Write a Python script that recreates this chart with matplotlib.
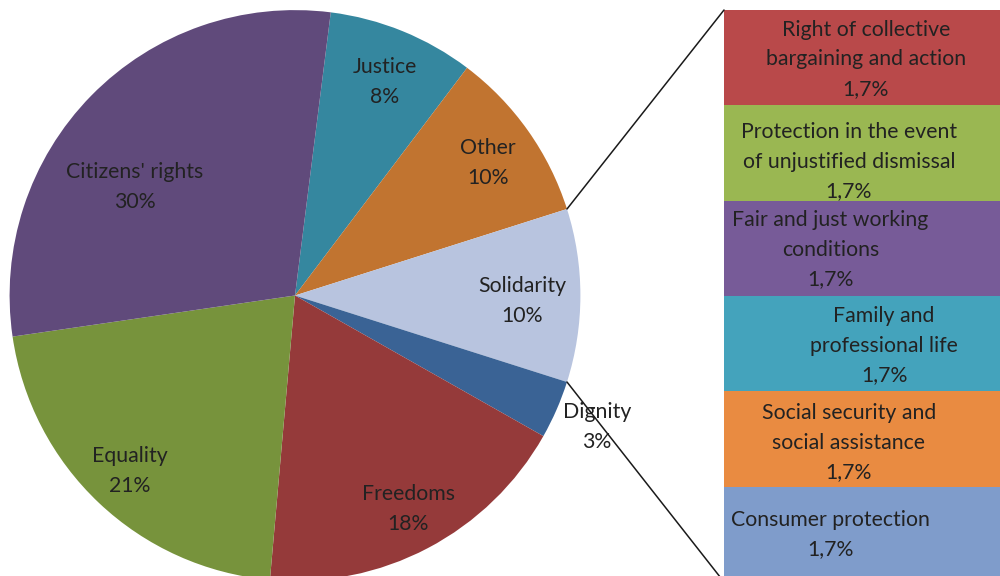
import matplotlib
matplotlib.use("Agg")
import matplotlib.pyplot as plt
from matplotlib.patches import ConnectionPatch
import numpy as np

plt.rcParams['font.family'] = ['Lato', 'DejaVu Sans']

# ---- data ----
pie_labels = ["Justice", "Other", "Solidarity", "Dignity", "Freedoms", "Equality", "Citizens' rights"]
pie_values = [8.3, 9.8, 9.8, 3.3, 18.2, 21.3, 29.3]
pie_pct_text = ["8%", "10%", "10%", "3%", "18%", "21%", "30%"]
pie_colors = ["#35879F", "#C17430", "#B8C4DF", "#3A6395", "#953A3A", "#77933C", "#604A7B"]

bar_labels = ["Right of collective\nbargaining and action",
              "Protection in the event\nof unjustified dismissal",
              "Fair and just working\nconditions",
              "Family and\nprofessional life",
              "Social security and\nsocial assistance",
              "Consumer protection"]
bar_values = [1.7, 1.7, 1.7, 1.7, 1.7, 1.7]
bar_pct_text = ["1,7%"] * 6
bar_colors = ["#B9494A", "#9AB752", "#775B98", "#44A3BC", "#E98B41", "#7F9CCB"]

TXT = "#222222"
FS = 15.3
LS = 1.6

fig = plt.figure(figsize=(10, 5.76), dpi=100)
ax = fig.add_axes([0, 0, 1, 1])

cx, cy, R = 295.0, 576 - 295.5, 285.4
sol_idx = pie_labels.index("Solidarity")
start = sum(pie_values[:sol_idx]) * 3.6 + pie_values[sol_idx] * 1.8
wedges, _ = ax.pie(pie_values, colors=pie_colors, startangle=start, counterclock=False,
                   center=(cx, cy), radius=R, frame=False,
                   wedgeprops=dict(linewidth=0))
ax.set_xlim(0, 1000)
ax.set_ylim(0, 576)
ax.set_aspect('equal')
ax.axis('off')

# label positions (fractions of radius, relative to centre)
label_pos = [(0.315, 0.748), (0.676, 0.464), (0.795, -0.019), (1.058, -0.461),
             (0.396, -0.748), (-0.578, -0.615), (-0.561, 0.380)]
for lab, pct, (fx, fy) in zip(pie_labels, pie_pct_text, label_pos):
    ax.text(cx + fx * R, cy + fy * R, f"{lab}\n{pct}", ha='center', va='center',
            fontsize=FS, color=TXT, linespacing=LS)

# ---- bar of pie ----
top_px, bot_px, left_px = 10, 582, 724
bax = fig.add_axes([left_px / 1000, 1 - bot_px / 576, 0.28, (bot_px - top_px) / 576])
vals_bottom_up = bar_values[::-1]
cols_bottom_up = bar_colors[::-1]
bottoms = np.concatenate([[0], np.cumsum(vals_bottom_up)[:-1]])
bars = bax.bar([0] * len(vals_bottom_up), vals_bottom_up, bottom=bottoms, width=1,
               align='edge', color=cols_bottom_up, linewidth=0)
total = float(np.sum(bar_values))
bax.set_xlim(0, 1)
bax.set_ylim(0, total)
bax.axis('off')

# text placement in each box (fraction of box width, pixel shift down)
text_x = [0.507, 0.446, 0.380, 0.572, 0.446, 0.380]
text_dy = [1.5, 8.5, 1.5, 2.0, 3.5, 0.0]
px_per_unit = (bot_px - top_px) / total
for i, (lab, pct) in enumerate(zip(bar_labels, bar_pct_text)):
    b = bars[len(bars) - 1 - i]
    yc = b.get_y() + b.get_height() / 2 - text_dy[i] / px_per_unit
    bax.text(text_x[i], yc, f"{lab}\n{pct}", ha='center', va='center',
             fontsize=FS, color=TXT, linespacing=LS)

# connector lines from solidarity wedge edges to bar corners
w = wedges[sol_idx]
for theta, yb in [(w.theta2, total), (w.theta1, 0.0)]:
    t = np.deg2rad(theta)
    pA = (cx + R * np.cos(t), cy + R * np.sin(t))
    con = ConnectionPatch(xyA=pA, coordsA=ax.transData, xyB=(0, yb), coordsB=bax.transData,
                          color="#1a1a1a", linewidth=1.1)
    fig.add_artist(con)

fig.savefig("out.png", dpi=100, facecolor='white')
